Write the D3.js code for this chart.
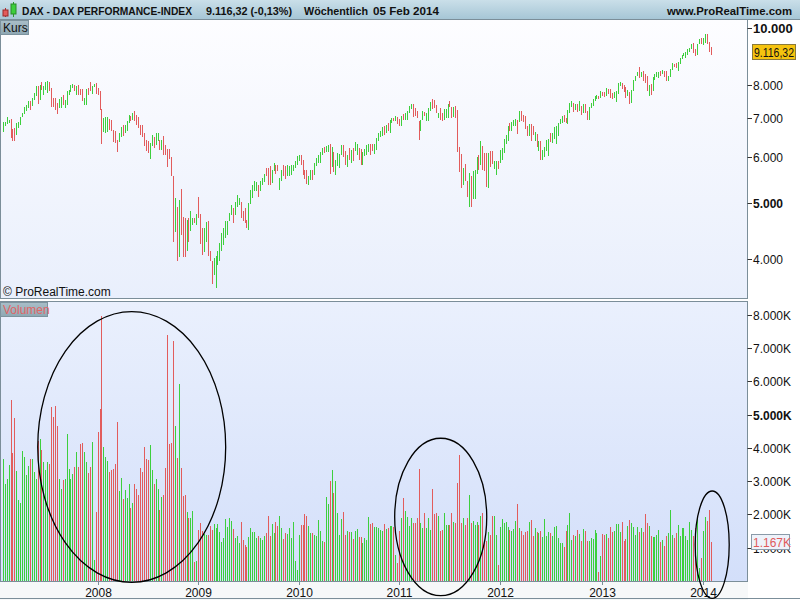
<!DOCTYPE html>
<html>
<head>
<meta charset="utf-8">
<script src="https://cdn.jsdelivr.net/npm/d3@7"></script>
<style>
body { margin: 0; background: #fff; }
svg { display: block; font-family: "Liberation Sans", Arial, sans-serif; }
</style>
</head>
<body>
<svg id="svg1" width="800" height="600"></svg>
<script>
// weekly bars, first week starts 2007-01-29
var startWeek = new Date(2007, 0, 29);

var hi = [
6890,6890,7020,6960,6990,6700,6720,6860,6890,7040, 7160,7310,7370,7480,7480,7570,7730,7940,7940,7990,
8070,7940,8070,8100,8070,7880,7570,7570,7450,7540, 7600,7670,7530,7790,7820,7990,8020,7990,7960,7990,
7860,7850,7570,7850,7890,8070,7960,8020,8040,7880, 7800,7260,7000,7020,7020,6990,6960,6680,6650,6430,
6590,6750,6810,6810,6910,7080,7060,7160,7190,7080, 7040,6810,6810,6590,6420,6390,6350,6540,6490,6590,
6590,6430,6430,6510,6290,6200,6200,5990,5560,5100, 4920,5070,5280,4730,4710,4680,4710,4840,4720,4710,
4780,5130,4790,4530,4530,4630,4650,4130,3970,4020, 4050,4130,4270,4440,4530,4660,4660,4800,4960,4910,
5020,5170,5110,5030,4840,4900,4680,5000,5270,5380, 5450,5430,5360,5460,5520,5610,5750,5750,5780,5700,
5850,5820,5820,5520,5710,5820,5800,5810,5800,5820, 5820,5900,6020,6040,6050,5930,5690,5710,5560,5690,
5710,5860,5980,6040,6120,6220,6240,6270,6290,6310, 6240,6130,5940,6090,6070,6300,6290,6140,6040,6210,
6160,6220,6360,6310,6220,6190,6110,6190,6300,6310, 6310,6310,6310,6470,6600,6650,6760,6780,6810,6860,
6940,7000,7000,7050,7020,6990,7050,7110,7140,7190, 7340,7400,7400,7300,7190,6910,6940,7190,7170,7160,
7290,7470,7550,7510,7370,7160,7290,7140,7250,7260, 7400,7480,7330,7310,7340,7220,6240,6070,5750,5840,
5450,5630,5570,5670,5710,5990,6040,6390,6260,6100, 6090,6100,6140,6140,5910,5910,5900,6170,6220,6440,
6550,6790,6880,6900,6960,6990,6950,7190,7190,7100, 7060,6800,6830,6840,6800,6620,6580,6400,6390,6180,
6250,6420,6450,6600,6590,6760,6780,6880,6990,7060, 7080,7000,7240,7440,7480,7450,7420,7400,7480,7360,
7400,7400,7190,7320,7440,7540,7650,7680,7650,7790, 7780,7760,7880,7870,7850,7740,7760,7810,8050,8070,
8060,8000,7910,7840,7760,7830,8130,8290,8400,8560, 8400,8430,8330,8280,7970,8010,8230,8340,8410,8420,
8430,8480,8440,8440,8290,8510,8700,8690,8720,8740, 8880,9000,9070,9120,9200,9260,9410,9420,9220,9400,
9600,9620,9630,9790,9760,9480,9300
];

var lo = [
6630,6780,6840,6870,6470,6390,6390,6540,6730,6820, 7040,7120,7190,7290,7230,7360,7530,7630,7420,7530,
7830,7690,7830,7740,7790,7320,7320,7230,7120,7290, 7290,7390,7290,7380,7670,7760,7890,7790,7670,7660,
7690,7480,7390,7380,7690,7790,7710,7910,7720,7690, 7220,6310,6630,6600,6630,6690,6650,6380,6340,6120,
6370,6490,6510,6600,6650,6860,6910,6940,6910,6820, 6730,6560,6500,6280,6140,6090,5950,6260,6220,6300,
6390,6180,6180,6040,6040,5760,5960,5560,4280,4450, 3980,4040,4400,4040,4030,4140,4280,4480,4580,4610,
4580,4710,4250,4070,4120,4290,4050,3980,3620,3760, 3570,3910,3970,4130,4240,4350,4410,4650,4770,4620,
4770,4930,4970,4710,4650,4620,4530,4500,4980,5100, 5240,5250,5130,5240,5380,5430,5560,5380,5380,5420,
5670,5600,5670,5270,5450,5560,5490,5560,5560,5580, 5670,5750,5820,5900,5820,5590,5490,5390,5380,5470,
5470,5590,5790,5860,5860,6040,6090,6110,6130,5600, 5760,5650,5580,5790,5750,6040,5990,5810,5760,5940,
5870,5900,6140,6060,5940,5810,5810,6020,6040,6130, 6050,6140,6070,6170,6390,6490,6510,6560,6600,6650,
6600,6870,6910,6910,6840,6790,6780,6940,6960,6960, 7140,7250,7020,7050,7000,6410,6650,6940,7060,6910,
6910,7210,7250,7290,7160,7000,6940,6910,6960,7000, 7000,7310,7000,7020,7000,6110,5650,5300,5360,5450,
5120,4930,4930,5080,5080,5620,5690,5810,5710,5670, 5320,5300,5760,5830,5730,5590,5720,5860,5940,6100,
6330,6390,6650,6660,6790,6780,6580,6900,6930,6900, 6700,6510,6520,6400,6540,6400,6250,6150,5930,5920,
6000,6140,6030,6380,6350,6440,6320,6520,6830,6880, 6900,6860,6850,7150,7330,7170,7230,7170,7200,7080,
7150,7140,6950,6950,7290,7360,7480,7560,7550,7580, 7640,7620,7640,7700,7570,7560,7580,7460,7710,7950,
7850,7760,7580,7640,7420,7440,7800,8110,8260,8220, 8230,8120,8050,7800,7650,7690,7810,8140,8230,8220,
8260,8330,8240,8100,8100,8250,8490,8560,8540,8440, 8690,8840,8950,8890,8980,9120,9230,9080,8970,9000,
9400,9400,9350,9430,9380,9100,8990
];

// G = week closed up, R = week closed down
var dir = (
"GGGGRRRGGG" + "GGGGRGGGRG" + "RGGGRRRRRG" + "GRGGGGGRGR" + "RRGGRRGGRR" +
"RRGGGRRRRR" + "GGRGGGRGRR" + "RRRRRRGGRG" + "GRGRRRRRRG" + "RGRRRGRGGR" +
"GRRRGGRRRG" + "GGGGGGGGGR" + "GGGRRRRGGG" + "GGRGGGRRRG" + "GRRGGRRGGG" +
"GGGGRRRRGG" + "RGGGGGRGGR" + "GRGGGGRRGR" + "GRGGRRGGGG" + "RRGGGGGRGR" +
"GGRGRRGRGG" + "GGRRRRGGRG" + "GGRRRGRRGG" + "GRRGRRRRGR" + "RGRGGGRGRR" +
"RGRRGGRGGG" + "GGRGGGRGRR" + "RRGRRGRGRG" + "GGGRGGGGGG" + "RRGGGRGRGR" +
"GRRGGGGGRG" + "RRGRRRGGGG" + "RRRGRGGGGR" + "GRRRGRGGGG" + "RGRRGGGRRG" +
"GGGGGGGRRG" + "GRGGRRR").split("");

// volume in thousands
var vol = [
3660,2930,3080,3480,5430,3850,4890,3300,2430,2360, 3900,3720,3180,3450,3680,3660,3280,3060,4210,4260,
3930,3580,3330,3580,3510,5220,4940,5260,4650,3080, 2760,3030,3080,4410,3380,3080,3230,3430,3870,3430,
4130,4150,3880,3580,3250,3430,4180,630,2080,4480, 5160,7960,4030,3720,3610,3280,3340,3380,3520,4780,
2710,3090,2460,2750,2500,2930,2200,2350,2930,2780, 2580,3390,3270,4020,3660,3630,4080,3330,2910,3080,
2760,2140,2530,2580,3400,7410,4110,4150,7230,4660, 3710,5910,3400,2550,2600,2060,1900,1900,2100,560,
600,1530,1730,1500,1420,1380,1380,1650,1530,1700, 1580,1700,1460,1180,1300,1860,1630,1880,1790,1560,
1280,1360,1130,1780,1230,1080,1030,1330,1580,1460, 1460,1280,1350,1280,1230,1360,1430,1950,1360,1710,
1440,1760,1660,1950,1600,1260,1440,1420,1590,1290, 1760,600,330,1380,1680,1680,2010,1950,1650,1440,
1440,1380,1360,1830,1500,1200,1170,2520,2310,3000, 3330,2640,3000,2040,1380,1860,2070,1380,1500,1470,
1480,1260,1500,1560,1320,1320,1140,1290,1230,1930, 1710,1740,1620,1620,1590,1530,1500,1710,1560,1590,
1650,1650,1610,780,540,1500,1890,2490,2100,1920, 1650,1890,1740,1740,1890,3370,1740,1590,2040,1590,
1890,1530,2760,2010,2040,1950,1500,1530,2040,1680, 1680,1680,2040,1770,1740,2940,3780,1740,1890,1680,
1900,2580,1740,1800,1680,1770,1680,1950,2040,1200, 1200,1480,1380,1950,1950,1380,480,1620,1860,1740,
1770,1620,1530,1500,1560,1800,2330,1590,1500,1380, 1460,1500,1780,1830,1360,1580,1480,1430,1500,1330,
1860,1360,1460,1430,1360,1630,1660,1280,1130,1130, 1030,1500,1680,2030,1230,1380,1360,1530,1400,1200,
1560,1500,1200,1200,1280,1260,1530,1450,280,760, 1400,1380,1400,1300,1630,1460,1500,1700,1700,1480,
1780,1200,1260,1660,1830,1730,1630,1380,1630,1460, 1580,1460,2000,1730,1650,1360,1330,1330,1380,1530,
1180,1230,1060,1360,1430,2130,1380,1280,1450,1680, 1360,1580,1580,1360,1230,1780,1530,1360,1580,1930,
400,680,1500,1930,1800,2130,1167
];

var yearLabels = ["2008", "2009", "2010", "2011", "2012", "2013", "2014"];
var priceTicks = [4000, 5000, 6000, 7000, 8000, 10000];
var boldPriceTicks = [5000, 10000];
var volTicks = [1000, 2000, 3000, 4000, 5000, 6000, 7000, 8000];
var boldVolTicks = [5000];
var lastClose = 9116.32;
var lastVol = 1167;
var titleParts = ["DAX - DAX PERFORMANCE-INDEX", "9.116,32 (-0,13%)", "Wöchentlich", "05 Feb 2014"];

// circled volume zones: centre week, centre volume, half width in weeks, half height in K
var circles = [
    { i: 66.4, v: 4030, wk: 48.6, k: 4070 },
    { i: 226.2, v: 1925, wk: 23.8, k: 2367 },
    { i: 366.6, v: 1092, wk: 8.8, k: 1615 }
];

var svg = d3.select('#svg1');
var left = 1, right = 747;
var priceTop = 20, priceBottom = 298;
var volTop = 302, volBottom = 581;
var green = '#3dcf3d', red = '#e25c5c', frame = '#7b8e99';

var de = d3.formatLocale({ decimal: ",", thousands: ".", grouping: [3], currency: ["", "€"] });
var fmtInt = de.format(",");
var fmtPrice = de.format(",.2f");

var dates = hi.map(function(d, i) { return d3.timeWeek.offset(startWeek, i); });

var x = d3.scaleLinear().domain([-1.2, 384.6]).range([left, right]);
var y = d3.scaleLog().domain([3430, 10335]).range([priceBottom, priceTop]);
var vy = d3.scaleLinear().domain([0, 8390]).range([volBottom, volTop]);

var defs = svg.append('defs');
function grad(id, c1, c2) {
    var g = defs.append('linearGradient').attr('id', id)
        .attr('x1', 0).attr('y1', 0).attr('x2', 0).attr('y2', 1);
    g.append('stop').attr('offset', '0%').attr('stop-color', c1);
    g.append('stop').attr('offset', '100%').attr('stop-color', c2);
}
grad('gHead', '#cadfe9', '#a6c6d6');
grad('gPrice', '#fdfdff', '#e9effc');
grad('gVol', '#eaf0fd', '#d3dffa');
grad('gTag', '#a9bec8', '#8ea7b3');

// page background and bottom strip
svg.append('rect').attr('width', 800).attr('height', 600).attr('fill', '#ffffff');
svg.append('rect').attr('x', 0).attr('y', volBottom).attr('width', right + 1).attr('height', 600 - volBottom)
    .attr('fill', '#f6f8f9');
svg.append('line').attr('x1', 0).attr('x2', 800).attr('y1', 598.5).attr('y2', 598.5)
    .attr('stroke', frame);

// header
svg.append('rect').attr('x', 0).attr('y', 0).attr('width', 800).attr('height', 19)
    .attr('fill', 'url(#gHead)');
svg.append('line').attr('x1', 0).attr('x2', 800).attr('y1', 19.5).attr('y2', 19.5).attr('stroke', frame);

// small candlestick icon
var icon = svg.append('g');
icon.append('line').attr('x1', 5.5).attr('x2', 5.5).attr('y1', 8).attr('y2', 17).attr('stroke', '#b03030');
icon.append('rect').attr('x', 3).attr('y', 10).attr('width', 5).attr('height', 6).attr('fill', '#e25c5c').attr('stroke', '#9a2a2a');
icon.append('line').attr('x1', 13.5).attr('x2', 13.5).attr('y1', 2).attr('y2', 17).attr('stroke', '#2a9a2a');
icon.append('rect').attr('x', 11).attr('y', 4).attr('width', 5).attr('height', 10).attr('fill', '#3dcf3d').attr('stroke', '#2a8a2a');

// header texts, squeezed to the widths they take in the original
var headX = [22, 206, 304, 373];
var headW = [170, 86, 64, 66];
svg.append('g').selectAll('text').data(titleParts).join('text')
    .attr('x', function(d, i) { return headX[i]; })
    .attr('y', 15)
    .attr('textLength', function(d, i) { return headW[i]; })
    .attr('lengthAdjust', 'spacingAndGlyphs')
    .attr('font-size', '11px').attr('font-weight', 'bold').attr('fill', '#111')
    .text(function(d) { return d; });
svg.append('text').attr('x', 667).attr('y', 15)
    .attr('textLength', 125).attr('lengthAdjust', 'spacingAndGlyphs')
    .attr('font-size', '11px').attr('font-weight', 'bold').attr('fill', '#111')
    .text('www.ProRealTime.com');

// panels
svg.append('rect').attr('x', left).attr('y', priceTop).attr('width', right - left).attr('height', priceBottom - priceTop)
    .attr('fill', 'url(#gPrice)');
svg.append('rect').attr('x', left).attr('y', volTop).attr('width', right - left).attr('height', volBottom - volTop)
    .attr('fill', 'url(#gVol)');

// price bars
svg.append('g').attr('shape-rendering', 'crispEdges')
    .selectAll('rect').data(hi).join('rect')
    .attr('x', function(d, i) { return Math.floor(x(i)); })
    .attr('width', 1)
    .attr('y', function(d) { return Math.round(y(d)); })
    .attr('height', function(d, i) { return Math.max(1, Math.round(y(lo[i])) - Math.round(y(d))); })
    .attr('fill', function(d, i) { return dir[i] === 'G' ? green : red; });

// volume bars
svg.append('g').attr('shape-rendering', 'crispEdges')
    .selectAll('rect').data(vol).join('rect')
    .attr('x', function(d, i) { return Math.floor(x(i)); })
    .attr('width', 1)
    .attr('y', function(d) { return Math.round(vy(d)); })
    .attr('height', function(d) { return volBottom - Math.round(vy(d)); })
    .attr('fill', function(d, i) { return dir[i] === 'G' ? green : red; });

// panel frames
svg.append('rect').attr('x', 0.5).attr('y', priceTop - 0.5).attr('width', right).attr('height', priceBottom - priceTop + 1)
    .attr('fill', 'none').attr('stroke', frame);
svg.append('rect').attr('x', 0.5).attr('y', volTop - 0.5).attr('width', right).attr('height', volBottom - volTop + 1)
    .attr('fill', 'none').attr('stroke', frame);

// price axis
var pa = svg.append('g').attr('font-size', '12px').attr('fill', '#111');
priceTicks.forEach(function(t) {
    var yy = Math.round(y(t)) + 0.5;
    pa.append('line').attr('x1', right + 0.5).attr('x2', right + 5).attr('y1', yy).attr('y2', yy).attr('stroke', '#333');
    pa.append('text').attr('x', right + 6).attr('y', yy + 4.5)
        .attr('font-weight', boldPriceTicks.indexOf(t) >= 0 ? 'bold' : 'normal')
        .attr('font-size', t === 10000 ? '13px' : '12px')
        .text(fmtInt(t));
});
// last price tag
var lp = y(lastClose);
svg.append('rect').attr('x', 752.5).attr('y', Math.round(lp) - 7.5).attr('width', 43).attr('height', 15)
    .attr('fill', '#f5c30f').attr('stroke', '#8a7a3a');
svg.append('text').attr('x', 754).attr('y', Math.round(lp) + 4.5).attr('font-size', '12px').attr('fill', '#111')
    .attr('textLength', 40).attr('lengthAdjust', 'spacingAndGlyphs')
    .text(fmtPrice(lastClose));

// volume axis
var va = svg.append('g').attr('font-size', '12px').attr('fill', '#111');
volTicks.forEach(function(t) {
    var yy = Math.round(vy(t)) + 0.5;
    va.append('line').attr('x1', right + 0.5).attr('x2', right + 5).attr('y1', yy).attr('y2', yy).attr('stroke', '#333');
    va.append('text').attr('x', right + 6).attr('y', yy + 4.5)
        .attr('font-weight', boldVolTicks.indexOf(t) >= 0 ? 'bold' : 'normal')
        .text(fmtInt(t) + 'K');
});
// last volume tag sits over the 1.000K label, as in the original
var lv = Math.round(vy(lastVol));
svg.append('rect').attr('x', 751.5).attr('y', lv - 7.5).attr('width', 38).attr('height', 15)
    .attr('fill', '#eef2fa').attr('stroke', '#8a9aa8');
svg.append('text').attr('x', 753).attr('y', lv + 4.5).attr('font-size', '12px').attr('fill', '#e05a5a')
    .text(fmtInt(lastVol) + 'K');

// year axis
var yearIdx = yearLabels.map(function(lab) {
    var k = dates.findIndex(function(d) { return d.getFullYear() === +lab; });
    return { lab: lab, i: k };
});
var xa = svg.append('g').attr('font-size', '12px').attr('fill', '#111');
yearIdx.forEach(function(d) {
    var xx = Math.floor(x(d.i)) + 0.5;
    xa.append('line').attr('x1', xx).attr('x2', xx).attr('y1', volBottom).attr('y2', volBottom + 4).attr('stroke', frame);
    xa.append('text').attr('x', xx).attr('y', 597).attr('text-anchor', 'middle').text(d.lab);
});

// panel tags
svg.append('rect').attr('x', 0.5).attr('y', 20.5).attr('width', 28).attr('height', 14)
    .attr('fill', 'url(#gTag)').attr('stroke', '#7d939e');
svg.append('text').attr('x', 3).attr('y', 32).attr('font-size', '12px').attr('fill', '#111').text('Kurs');
svg.append('rect').attr('x', 0.5).attr('y', 302.5).attr('width', 47).attr('height', 14)
    .attr('fill', 'url(#gTag)').attr('stroke', '#7d939e');
svg.append('text').attr('x', 3).attr('y', 314).attr('font-size', '12px').attr('fill', '#e06666').text('Volumen');

svg.append('text').attr('x', 3).attr('y', 296).attr('font-size', '12px').attr('fill', '#111').text('© ProRealTime.com');

// ellipses drawn over the volume panel
var pitch = x(1) - x(0);
svg.append('g').selectAll('ellipse').data(circles).join('ellipse')
    .attr('cx', function(d) { return x(d.i); })
    .attr('cy', function(d) { return vy(d.v); })
    .attr('rx', function(d) { return d.wk * pitch; })
    .attr('ry', function(d) { return vy(0) - vy(d.k); })
    .attr('fill', 'none').attr('stroke', '#000').attr('stroke-width', 1.3);
</script>
</body>
</html>
